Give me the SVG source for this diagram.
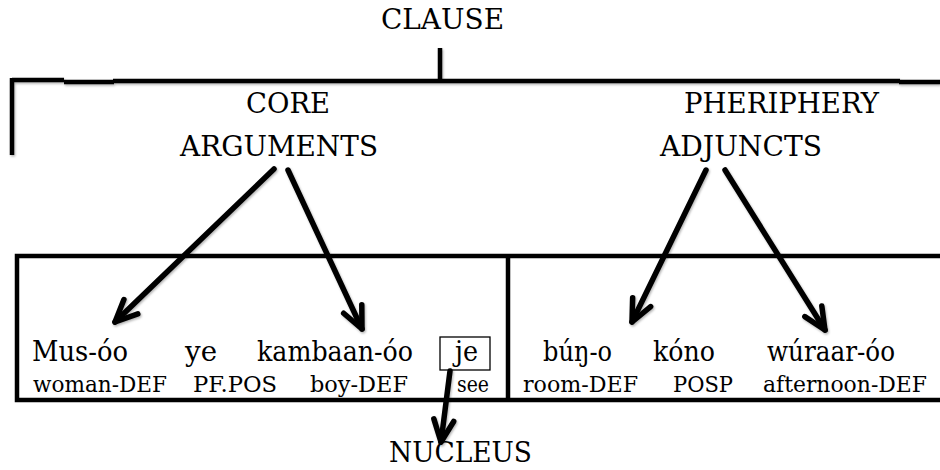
<svg xmlns="http://www.w3.org/2000/svg" width="940" height="470" viewBox="0 0 940 470">
  <style>
    text { font-family: "DejaVu Serif", serif; fill: #000; }
    .lbl { font-size: 28px; }
    .word { font-size: 28px; }
    .gloss { font-size: 22px; }
    .rule { stroke: #000; stroke-width: 4.5; fill: none; }
    .conn { stroke: #000; stroke-width: 5.5; fill: none; stroke-linecap: round; }
  </style>
  <defs>
    <filter id="soft" x="-10%" y="-10%" width="120%" height="130%">
      <feDropShadow dx="1" dy="1.5" stdDeviation="1.2" flood-color="#000" flood-opacity="0.3"/>
    </filter>
    <marker id="head" markerUnits="userSpaceOnUse" viewBox="-30 -15 36 30" markerWidth="36" markerHeight="30" refX="0" refY="0" orient="auto" overflow="visible">
      <path d="M-22,-10 L0,0 L-22,10" stroke="#000" stroke-width="5.5" fill="none" stroke-linecap="round" stroke-linejoin="round"/>
    </marker>
  </defs>

  <rect width="940" height="470" fill="#fff"/>

  <!-- top node -->
  <g id="clause">
    <text class="lbl" x="381" y="29" textLength="123" lengthAdjust="spacingAndGlyphs">CLAUSE</text>
  </g>

  <!-- bracket joining the clause to its two layers -->
  <g id="clause-bracket" filter="url(#soft)">
    <line class="rule" x1="440" y1="48" x2="440" y2="81"/>
    <line class="rule" x1="12" y1="80" x2="64" y2="80"/>
    <line class="rule" x1="64" y1="82" x2="114" y2="82"/>
    <line class="rule" x1="113" y1="81" x2="900" y2="81"/>
    <line class="rule" x1="899" y1="82" x2="940" y2="82"/>
    <line class="rule" x1="12" y1="78" x2="12" y2="155" stroke-width="3"/>
  </g>

  <g id="core">
    <text class="lbl" x="246" y="113" textLength="84" lengthAdjust="spacingAndGlyphs">CORE</text>
    <text class="lbl" x="180" y="156" textLength="198" lengthAdjust="spacingAndGlyphs">ARGUMENTS</text>
  </g>

  <g id="periphery">
    <text class="lbl" x="684" y="113" textLength="195" lengthAdjust="spacingAndGlyphs">PHERIPHERY</text>
    <text class="lbl" x="660" y="156" textLength="162" lengthAdjust="spacingAndGlyphs">ADJUNCTS</text>
  </g>

  <!-- sentence frame with core / periphery divider -->
  <g id="sentence-frame">
    <path class="rule" d="M940,256 H17 V400 H940"/>
    <line class="rule" x1="508" y1="256" x2="508" y2="400"/>
  </g>

  <g id="core-words">
    <text class="word" x="32" y="361" textLength="96" lengthAdjust="spacingAndGlyphs">Mus-óo</text>
    <text class="gloss" x="33" y="392" textLength="134" lengthAdjust="spacingAndGlyphs">woman-DEF</text>
    <text class="word" x="185" y="361" textLength="32" lengthAdjust="spacingAndGlyphs">ye</text>
    <text class="gloss" x="193" y="392" textLength="84" lengthAdjust="spacingAndGlyphs">PF.POS</text>
    <text class="word" x="257" y="361" textLength="156" lengthAdjust="spacingAndGlyphs">kambaan-óo</text>
    <text class="gloss" x="310" y="392" textLength="98" lengthAdjust="spacingAndGlyphs">boy-DEF</text>
  </g>

  <g id="verb">
    <rect x="440" y="337" width="50" height="33" fill="none" stroke="#000" stroke-width="1.3"/>
    <text class="word" x="455" y="361" textLength="23" lengthAdjust="spacingAndGlyphs">je</text>
    <text class="gloss" x="457" y="392" textLength="32" lengthAdjust="spacingAndGlyphs">see</text>
  </g>

  <g id="periphery-words">
    <text class="word" x="543" y="361" textLength="69" lengthAdjust="spacingAndGlyphs">búŋ-o</text>
    <text class="gloss" x="523" y="392" textLength="115" lengthAdjust="spacingAndGlyphs">room-DEF</text>
    <text class="word" x="653" y="361" textLength="62" lengthAdjust="spacingAndGlyphs">kóno</text>
    <text class="gloss" x="673" y="392" textLength="60" lengthAdjust="spacingAndGlyphs">POSP</text>
    <text class="word" x="767" y="361" textLength="128" lengthAdjust="spacingAndGlyphs">wúraar-óo</text>
    <text class="gloss" x="763" y="392" textLength="164" lengthAdjust="spacingAndGlyphs">afternoon-DEF</text>
  </g>

  <g id="nucleus">
    <text class="lbl" x="389" y="462" textLength="143" lengthAdjust="spacingAndGlyphs">NUCLEUS</text>
  </g>

  <!-- arrows -->
  <g id="connectors" filter="url(#soft)">
    <line class="conn" x1="274" y1="169" x2="115" y2="322" marker-end="url(#head)"/>
    <line class="conn" x1="288" y1="170" x2="362" y2="329" marker-end="url(#head)"/>
    <line class="conn" x1="706" y1="170" x2="632" y2="322" marker-end="url(#head)"/>
    <line class="conn" x1="725" y1="170" x2="825" y2="330" marker-end="url(#head)"/>
    <line class="conn" x1="450" y1="371" x2="441" y2="442" marker-end="url(#head)"/>
  </g>
</svg>
